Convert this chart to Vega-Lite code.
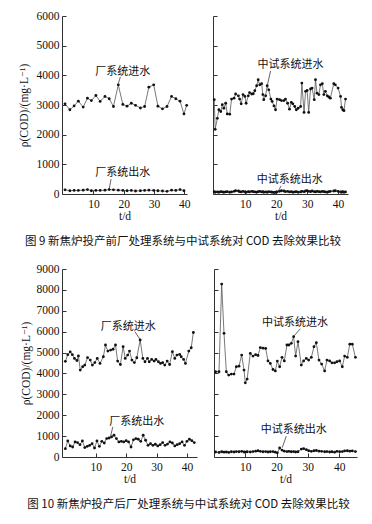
{
  "$schema": "https://vega.github.io/schema/vega-lite/v6.json",
  "padding": {"left": 18, "top": 10, "right": 4, "bottom": 4},
  "background": "white",
  "config": {
    "view": {"stroke": null},
    "font": "Liberation Serif, Times New Roman, DejaVu Serif, serif",
    "axis": {"grid": false, "domainColor": "#333", "tickColor": "#333", "tickSize": -4, "labelFont": "Liberation Serif, Times New Roman, DejaVu Serif, serif", "labelFontSize": 11.5, "labelColor": "#111", "titleFont": "Liberation Serif, Times New Roman, DejaVu Serif, serif", "titleFontSize": 11.5, "titleFontWeight": "normal", "titleColor": "#111", "format": "d"},
    "axisX": {"labelPadding": 8},
    "axisY": {"labelPadding": 7}
  },
  "datasets": {
    "f9L": [
      {"s":"in","day":0.6,"cod":3040},{"s":"in","day":2.2,"cod":2840},{"s":"in","day":3.6,"cod":2970},{"s":"in","day":5.0,"cod":3130},{"s":"in","day":6.6,"cod":2930},{"s":"in","day":8.0,"cod":3230},{"s":"in","day":9.3,"cod":3150},{"s":"in","day":10.8,"cod":3320},{"s":"in","day":12.2,"cod":3120},{"s":"in","day":13.8,"cod":3290},{"s":"in","day":15.2,"cod":3210},{"s":"in","day":16.6,"cod":2950},{"s":"in","day":18.2,"cod":3680},{"s":"in","day":19.7,"cod":3020},{"s":"in","day":21.1,"cod":2960},{"s":"in","day":22.5,"cod":3060},{"s":"in","day":23.9,"cod":2990},{"s":"in","day":25.5,"cod":2900},{"s":"in","day":26.9,"cod":2950},{"s":"in","day":28.3,"cod":3600},{"s":"in","day":29.9,"cod":3680},{"s":"in","day":31.3,"cod":2960},{"s":"in","day":32.8,"cod":2870},{"s":"in","day":34.3,"cod":2950},{"s":"in","day":35.8,"cod":3290},{"s":"in","day":37.2,"cod":3210},{"s":"in","day":38.6,"cod":3130},{"s":"in","day":39.9,"cod":2700},{"s":"in","day":40.8,"cod":2990},
      {"s":"out","day":0.6,"cod":140},{"s":"out","day":2.2,"cod":110},{"s":"out","day":3.6,"cod":120},{"s":"out","day":5.0,"cod":120},{"s":"out","day":6.6,"cod":130},{"s":"out","day":8.0,"cod":150},{"s":"out","day":9.3,"cod":110},{"s":"out","day":10.8,"cod":120},{"s":"out","day":12.2,"cod":120},{"s":"out","day":13.8,"cod":130},{"s":"out","day":15.2,"cod":150},{"s":"out","day":16.6,"cod":140},{"s":"out","day":18.2,"cod":130},{"s":"out","day":19.7,"cod":120},{"s":"out","day":21.1,"cod":110},{"s":"out","day":22.5,"cod":120},{"s":"out","day":23.9,"cod":100},{"s":"out","day":25.5,"cod":110},{"s":"out","day":26.9,"cod":120},{"s":"out","day":28.3,"cod":130},{"s":"out","day":29.9,"cod":120},{"s":"out","day":31.3,"cod":110},{"s":"out","day":32.8,"cod":100},{"s":"out","day":34.3,"cod":90},{"s":"out","day":35.8,"cod":130},{"s":"out","day":37.2,"cod":120},{"s":"out","day":38.6,"cod":150},{"s":"out","day":39.9,"cod":110}
    ],
    "f9R": [
      {"s":"in","day":0.0,"cod":3180},{"s":"in","day":0.3,"cod":2180},{"s":"in","day":1.0,"cod":2550},{"s":"in","day":1.5,"cod":2840},{"s":"in","day":2.1,"cod":2780},{"s":"in","day":2.6,"cod":3010},{"s":"in","day":3.1,"cod":2890},{"s":"in","day":3.7,"cod":3060},{"s":"in","day":4.2,"cod":2700},{"s":"in","day":5.0,"cod":2690},{"s":"in","day":5.6,"cod":3200},{"s":"in","day":6.4,"cod":3230},{"s":"in","day":6.9,"cod":3370},{"s":"in","day":7.8,"cod":3310},{"s":"in","day":8.2,"cod":3200},{"s":"in","day":8.7,"cod":3040},{"s":"in","day":9.3,"cod":3350},{"s":"in","day":9.9,"cod":3290},{"s":"in","day":10.3,"cod":3060},{"s":"in","day":11.0,"cod":3310},{"s":"in","day":11.4,"cod":3420},{"s":"in","day":12.1,"cod":3370},{"s":"in","day":12.6,"cod":3380},{"s":"in","day":13.1,"cod":3480},{"s":"in","day":13.7,"cod":3650},{"s":"in","day":14.2,"cod":3850},{"s":"in","day":14.7,"cod":3680},{"s":"in","day":15.3,"cod":3720},{"s":"in","day":15.7,"cod":3350},{"s":"in","day":16.0,"cod":3180},{"s":"in","day":16.6,"cod":3310},{"s":"in","day":17.1,"cod":3650},{"s":"in","day":17.6,"cod":3510},{"s":"in","day":18.3,"cod":3200},{"s":"in","day":18.7,"cod":3120},{"s":"in","day":19.3,"cod":2970},{"s":"in","day":19.8,"cod":2840},{"s":"in","day":20.3,"cod":3200},{"s":"in","day":21.1,"cod":3180},{"s":"in","day":21.7,"cod":3150},{"s":"in","day":22.5,"cod":3150},{"s":"in","day":23.0,"cod":3200},{"s":"in","day":23.7,"cod":3060},{"s":"in","day":24.3,"cod":2860},{"s":"in","day":24.9,"cod":3090},{"s":"in","day":25.4,"cod":3040},{"s":"in","day":26.0,"cod":2950},{"s":"in","day":26.5,"cod":2840},{"s":"in","day":27.1,"cod":2890},{"s":"in","day":27.9,"cod":2950},{"s":"in","day":28.3,"cod":3740},{"s":"in","day":29.0,"cod":2750},{"s":"in","day":29.5,"cod":3460},{"s":"in","day":30.0,"cod":3490},{"s":"in","day":30.5,"cod":2750},{"s":"in","day":31.1,"cod":3540},{"s":"in","day":31.6,"cod":3570},{"s":"in","day":32.3,"cod":3180},{"s":"in","day":32.7,"cod":3850},{"s":"in","day":33.2,"cod":3400},{"s":"in","day":33.8,"cod":3350},{"s":"in","day":34.3,"cod":3680},{"s":"in","day":34.9,"cod":3720},{"s":"in","day":35.4,"cod":3350},{"s":"in","day":35.9,"cod":3460},{"s":"in","day":36.5,"cod":3310},{"s":"in","day":37.0,"cod":3270},{"s":"in","day":37.5,"cod":3230},{"s":"in","day":38.6,"cod":3720},{"s":"in","day":39.1,"cod":3680},{"s":"in","day":40.0,"cod":3570},{"s":"in","day":40.8,"cod":3290},{"s":"in","day":41.1,"cod":2920},{"s":"in","day":41.5,"cod":2840},{"s":"in","day":41.9,"cod":2810},{"s":"in","day":42.4,"cod":3200},
      {"s":"out","day":0.0,"cod":80},{"s":"out","day":0.3,"cod":60},{"s":"out","day":1.0,"cod":70},{"s":"out","day":1.5,"cod":60},{"s":"out","day":2.1,"cod":80},{"s":"out","day":2.6,"cod":70},{"s":"out","day":3.1,"cod":60},{"s":"out","day":3.7,"cod":70},{"s":"out","day":4.2,"cod":80},{"s":"out","day":5.0,"cod":60},{"s":"out","day":5.6,"cod":70},{"s":"out","day":6.4,"cod":90},{"s":"out","day":6.9,"cod":110},{"s":"out","day":7.8,"cod":100},{"s":"out","day":8.2,"cod":80},{"s":"out","day":8.7,"cod":70},{"s":"out","day":9.3,"cod":90},{"s":"out","day":9.9,"cod":70},{"s":"out","day":10.3,"cod":60},{"s":"out","day":11.0,"cod":80},{"s":"out","day":11.4,"cod":70},{"s":"out","day":12.1,"cod":90},{"s":"out","day":12.6,"cod":80},{"s":"out","day":13.1,"cod":70},{"s":"out","day":13.7,"cod":60},{"s":"out","day":14.2,"cod":80},{"s":"out","day":14.7,"cod":90},{"s":"out","day":15.3,"cod":70},{"s":"out","day":15.7,"cod":80},{"s":"out","day":16.0,"cod":60},{"s":"out","day":16.6,"cod":70},{"s":"out","day":17.1,"cod":60},{"s":"out","day":17.6,"cod":80},{"s":"out","day":18.3,"cod":70},{"s":"out","day":18.7,"cod":60},{"s":"out","day":19.3,"cod":50},{"s":"out","day":19.8,"cod":60},{"s":"out","day":20.3,"cod":70},{"s":"out","day":21.1,"cod":90},{"s":"out","day":21.7,"cod":110},{"s":"out","day":22.5,"cod":100},{"s":"out","day":23.0,"cod":80},{"s":"out","day":23.7,"cod":90},{"s":"out","day":24.3,"cod":70},{"s":"out","day":24.9,"cod":80},{"s":"out","day":25.4,"cod":60},{"s":"out","day":26.0,"cod":70},{"s":"out","day":26.5,"cod":80},{"s":"out","day":27.1,"cod":60},{"s":"out","day":27.9,"cod":70},{"s":"out","day":28.3,"cod":90},{"s":"out","day":29.0,"cod":80},{"s":"out","day":29.5,"cod":100},{"s":"out","day":30.0,"cod":110},{"s":"out","day":30.5,"cod":90},{"s":"out","day":31.1,"cod":80},{"s":"out","day":31.6,"cod":100},{"s":"out","day":32.3,"cod":80},{"s":"out","day":32.7,"cod":70},{"s":"out","day":33.2,"cod":90},{"s":"out","day":33.8,"cod":80},{"s":"out","day":34.3,"cod":70},{"s":"out","day":34.9,"cod":90},{"s":"out","day":35.4,"cod":80},{"s":"out","day":35.9,"cod":70},{"s":"out","day":36.5,"cod":60},{"s":"out","day":37.0,"cod":80},{"s":"out","day":37.5,"cod":90},{"s":"out","day":38.6,"cod":100},{"s":"out","day":39.1,"cod":110},{"s":"out","day":40.0,"cod":90},{"s":"out","day":40.8,"cod":70},{"s":"out","day":41.1,"cod":60},{"s":"out","day":41.5,"cod":80},{"s":"out","day":41.9,"cod":60},{"s":"out","day":42.4,"cod":70}
    ],
    "f10L": [
      {"s":"in","day":0.0,"cod":4580},{"s":"in","day":0.8,"cod":4900},{"s":"in","day":1.6,"cod":5030},{"s":"in","day":2.3,"cod":4900},{"s":"in","day":3.0,"cod":4720},{"s":"in","day":3.8,"cod":4620},{"s":"in","day":4.3,"cod":4840},{"s":"in","day":4.9,"cod":4160},{"s":"in","day":5.7,"cod":4320},{"s":"in","day":6.4,"cod":4400},{"s":"in","day":7.3,"cod":4760},{"s":"in","day":8.2,"cod":4640},{"s":"in","day":8.9,"cod":4400},{"s":"in","day":9.7,"cod":4520},{"s":"in","day":10.5,"cod":4720},{"s":"in","day":11.4,"cod":4480},{"s":"in","day":12.5,"cod":4800},{"s":"in","day":13.2,"cod":5360},{"s":"in","day":14.0,"cod":5070},{"s":"in","day":14.9,"cod":5120},{"s":"in","day":15.7,"cod":5160},{"s":"in","day":16.5,"cod":5360},{"s":"in","day":17.2,"cod":4590},{"s":"in","day":18.1,"cod":4430},{"s":"in","day":19.0,"cod":5280},{"s":"in","day":19.7,"cod":4720},{"s":"in","day":20.5,"cod":4880},{"s":"in","day":21.1,"cod":5070},{"s":"in","day":21.9,"cod":4640},{"s":"in","day":22.7,"cod":4520},{"s":"in","day":23.5,"cod":4750},{"s":"in","day":24.6,"cod":5600},{"s":"in","day":25.5,"cod":4720},{"s":"in","day":26.2,"cod":4560},{"s":"in","day":27.0,"cod":4720},{"s":"in","day":27.6,"cod":4560},{"s":"in","day":28.4,"cod":4670},{"s":"in","day":29.2,"cod":4590},{"s":"in","day":29.8,"cod":4670},{"s":"in","day":30.6,"cod":4560},{"s":"in","day":31.3,"cod":4480},{"s":"in","day":32.0,"cod":4520},{"s":"in","day":32.7,"cod":4400},{"s":"in","day":33.5,"cod":4590},{"s":"in","day":34.3,"cod":4430},{"s":"in","day":35.2,"cod":5040},{"s":"in","day":36.0,"cod":4720},{"s":"in","day":36.7,"cod":4880},{"s":"in","day":37.6,"cod":4910},{"s":"in","day":38.1,"cod":4800},{"s":"in","day":38.9,"cod":4670},{"s":"in","day":39.5,"cod":4480},{"s":"in","day":40.6,"cod":5070},{"s":"in","day":41.4,"cod":5230},{"s":"in","day":42.1,"cod":5960},
      {"s":"out","day":0.0,"cod":400},{"s":"out","day":0.8,"cod":770},{"s":"out","day":1.6,"cod":530},{"s":"out","day":2.4,"cod":480},{"s":"out","day":3.2,"cod":720},{"s":"out","day":4.0,"cod":690},{"s":"out","day":4.8,"cod":590},{"s":"out","day":5.6,"cod":770},{"s":"out","day":6.4,"cod":450},{"s":"out","day":7.2,"cod":510},{"s":"out","day":8.0,"cod":560},{"s":"out","day":8.8,"cod":640},{"s":"out","day":9.6,"cod":430},{"s":"out","day":10.4,"cod":770},{"s":"out","day":11.2,"cod":510},{"s":"out","day":12.0,"cod":750},{"s":"out","day":12.8,"cod":670},{"s":"out","day":13.6,"cod":880},{"s":"out","day":14.4,"cod":910},{"s":"out","day":15.2,"cod":960},{"s":"out","day":16.0,"cod":1040},{"s":"out","day":16.8,"cod":880},{"s":"out","day":17.6,"cod":720},{"s":"out","day":18.4,"cod":750},{"s":"out","day":19.2,"cod":720},{"s":"out","day":20.0,"cod":780},{"s":"out","day":20.8,"cod":720},{"s":"out","day":21.6,"cod":480},{"s":"out","day":22.4,"cod":820},{"s":"out","day":23.2,"cod":880},{"s":"out","day":24.0,"cod":850},{"s":"out","day":24.8,"cod":750},{"s":"out","day":25.6,"cod":1040},{"s":"out","day":26.4,"cod":800},{"s":"out","day":27.2,"cod":560},{"s":"out","day":28.0,"cod":640},{"s":"out","day":28.8,"cod":560},{"s":"out","day":29.6,"cod":610},{"s":"out","day":30.4,"cod":530},{"s":"out","day":31.2,"cod":590},{"s":"out","day":32.0,"cod":690},{"s":"out","day":32.8,"cod":560},{"s":"out","day":33.6,"cod":620},{"s":"out","day":34.4,"cod":720},{"s":"out","day":35.2,"cod":670},{"s":"out","day":36.0,"cod":530},{"s":"out","day":36.8,"cod":590},{"s":"out","day":37.6,"cod":640},{"s":"out","day":38.4,"cod":720},{"s":"out","day":39.2,"cod":560},{"s":"out","day":40.0,"cod":750},{"s":"out","day":40.8,"cod":850},{"s":"out","day":41.6,"cod":780},{"s":"out","day":42.4,"cod":690}
    ],
    "f10R": [
      {"s":"in","day":0.5,"cod":4080},{"s":"in","day":1.6,"cod":4080},{"s":"in","day":2.45,"cod":8280},{"s":"in","day":3.2,"cod":5920},{"s":"in","day":3.94,"cod":4080},{"s":"in","day":4.69,"cod":3920},{"s":"in","day":5.54,"cod":3970},{"s":"in","day":6.39,"cod":3970},{"s":"in","day":7.14,"cod":4320},{"s":"in","day":7.99,"cod":4350},{"s":"in","day":8.84,"cod":4880},{"s":"in","day":9.6,"cod":4160},{"s":"in","day":10.0,"cod":3550},{"s":"in","day":10.6,"cod":3730},{"s":"in","day":11.6,"cod":4960},{"s":"in","day":12.46,"cod":4830},{"s":"in","day":13.31,"cod":4900},{"s":"in","day":14.06,"cod":4860},{"s":"in","day":14.8,"cod":5240},{"s":"in","day":15.65,"cod":5210},{"s":"in","day":16.5,"cod":5200},{"s":"in","day":17.25,"cod":4600},{"s":"in","day":18.0,"cod":4480},{"s":"in","day":18.85,"cod":4190},{"s":"in","day":19.6,"cod":4120},{"s":"in","day":20.23,"cod":4590},{"s":"in","day":20.98,"cod":4320},{"s":"in","day":21.73,"cod":4770},{"s":"in","day":22.47,"cod":4600},{"s":"in","day":23.32,"cod":5360},{"s":"in","day":23.96,"cod":5360},{"s":"in","day":24.7,"cod":5440},{"s":"in","day":25.45,"cod":5760},{"s":"in","day":26.09,"cod":4830},{"s":"in","day":26.84,"cod":5520},{"s":"in","day":27.9,"cod":4400},{"s":"in","day":28.65,"cod":4600},{"s":"in","day":29.5,"cod":4720},{"s":"in","day":30.25,"cod":4640},{"s":"in","day":31.1,"cod":4770},{"s":"in","day":31.95,"cod":5280},{"s":"in","day":32.7,"cod":5470},{"s":"in","day":33.55,"cod":4640},{"s":"in","day":34.4,"cod":4450},{"s":"in","day":35.36,"cod":4120},{"s":"in","day":36.1,"cod":4640},{"s":"in","day":36.95,"cod":4600},{"s":"in","day":37.7,"cod":4510},{"s":"in","day":38.55,"cod":4510},{"s":"in","day":39.3,"cod":4560},{"s":"in","day":40.15,"cod":4600},{"s":"in","day":41.0,"cod":4320},{"s":"in","day":41.75,"cod":4830},{"s":"in","day":42.6,"cod":4770},{"s":"in","day":43.4,"cod":5400},{"s":"in","day":44.2,"cod":5400},{"s":"in","day":45.2,"cod":4770},
      {"s":"out","day":0.5,"cod":240},{"s":"out","day":1.6,"cod":220},{"s":"out","day":2.45,"cod":250},{"s":"out","day":3.2,"cod":230},{"s":"out","day":3.94,"cod":240},{"s":"out","day":4.69,"cod":220},{"s":"out","day":5.54,"cod":250},{"s":"out","day":6.39,"cod":240},{"s":"out","day":7.14,"cod":260},{"s":"out","day":7.99,"cod":250},{"s":"out","day":8.84,"cod":270},{"s":"out","day":9.6,"cod":240},{"s":"out","day":10.0,"cod":230},{"s":"out","day":10.6,"cod":250},{"s":"out","day":11.6,"cod":240},{"s":"out","day":12.46,"cod":260},{"s":"out","day":13.31,"cod":280},{"s":"out","day":14.06,"cod":300},{"s":"out","day":14.8,"cod":270},{"s":"out","day":15.65,"cod":250},{"s":"out","day":16.5,"cod":260},{"s":"out","day":17.25,"cod":240},{"s":"out","day":18.0,"cod":250},{"s":"out","day":18.85,"cod":260},{"s":"out","day":19.6,"cod":230},{"s":"out","day":20.23,"cod":200},{"s":"out","day":20.98,"cod":430},{"s":"out","day":21.73,"cod":330},{"s":"out","day":22.47,"cod":280},{"s":"out","day":23.32,"cod":260},{"s":"out","day":23.96,"cod":270},{"s":"out","day":24.7,"cod":250},{"s":"out","day":25.45,"cod":260},{"s":"out","day":26.09,"cod":240},{"s":"out","day":26.84,"cod":250},{"s":"out","day":27.9,"cod":380},{"s":"out","day":28.65,"cod":400},{"s":"out","day":29.5,"cod":350},{"s":"out","day":30.25,"cod":300},{"s":"out","day":31.1,"cod":270},{"s":"out","day":31.95,"cod":300},{"s":"out","day":32.7,"cod":310},{"s":"out","day":33.55,"cod":280},{"s":"out","day":34.4,"cod":270},{"s":"out","day":35.36,"cod":250},{"s":"out","day":36.1,"cod":260},{"s":"out","day":36.95,"cod":240},{"s":"out","day":37.7,"cod":250},{"s":"out","day":38.55,"cod":230},{"s":"out","day":39.3,"cod":270},{"s":"out","day":40.15,"cod":250},{"s":"out","day":41.0,"cod":260},{"s":"out","day":41.75,"cod":290},{"s":"out","day":42.6,"cod":300},{"s":"out","day":43.4,"cod":280},{"s":"out","day":44.2,"cod":290},{"s":"out","day":45.2,"cod":260}
    ],
    "t9L": [{"day":19.7,"cod":4110,"label":"厂系统进水"},{"day":19.7,"cod":700,"label":"厂系统出水"}],
    "l9L": [{"day":18.9,"cod":3950,"day2":18.2,"cod2":3720},{"day":15.8,"cod":500,"day2":15.2,"cod2":170}],
    "t9R": [{"day":24.6,"cod":4350,"label":"中试系统进水"},{"day":24.4,"cod":460,"label":"中试系统出水"}],
    "l9R": [{"day":18.2,"cod":4150,"day2":17.2,"cod2":3690},{"day":21.6,"cod":275,"day2":20.5,"cod2":60}],
    "t10L": [{"day":20.7,"cod":6235,"label":"厂系统进水"},{"day":23.5,"cod":1680,"label":"厂系统出水"}],
    "l10L": [{"day":22.9,"cod":6000,"day2":24.5,"cod2":5640},{"day":15.6,"cod":1440,"day2":14.9,"cod2":1000}],
    "t10R": [{"day":25.9,"cod":6400,"label":"中试系统进水"},{"day":25.5,"cod":1280,"label":"中试系统出水"}],
    "l10R": [{"day":27.6,"cod":6140,"day2":25.6,"cod2":5800},{"day":23.1,"cod":1000,"day2":21.8,"cod2":450}]
  },
  "spacing": 15,
  "vconcat": [
    {
      "title": {"text": "图 9   新焦炉投产前厂处理系统与中试系统对 COD 去除效果比较", "orient": "bottom", "anchor": "middle", "font": "Noto Sans CJK SC", "fontSize": 11.5, "fontWeight": "normal", "color": "#111", "offset": 14},
      "spacing": 21,
      "hconcat": [
        {
          "width": 125, "height": 178,
          "encoding": {
            "x": {"field": "day", "type": "quantitative", "scale": {"domain": [-0.4, 40.9], "nice": false, "zero": false}, "axis": {"values": [10, 20, 30, 40], "title": "t/d", "titlePadding": 1}},
            "y": {"field": "cod", "type": "quantitative", "scale": {"domain": [0, 6000], "nice": false}, "axis": {"values": [0, 1000, 2000, 3000, 4000, 5000, 6000], "title": "ρ(COD)/(mg·L⁻¹)", "titlePadding": 7}}
          },
          "layer": [
            {"data": {"name": "f9L"}, "mark": {"type": "line", "color": "#555", "strokeWidth": 0.8, "point": {"filled": true, "color": "#111", "size": 8}}, "encoding": {"detail": {"field": "s"}}},
            {"data": {"name": "l9L"}, "mark": {"type": "rule", "color": "#222", "strokeWidth": 0.7}, "encoding": {"x2": {"field": "day2"}, "y2": {"field": "cod2"}}},
            {"data": {"name": "t9L"}, "mark": {"type": "text", "align": "center", "baseline": "middle", "font": "Noto Sans CJK SC", "fontSize": 11, "color": "#111"}, "encoding": {"text": {"field": "label"}}}
          ]
        },
        {
          "width": 135, "height": 178,
          "encoding": {
            "x": {"field": "day", "type": "quantitative", "scale": {"domain": [-0.4, 43.2], "nice": false, "zero": false}, "axis": {"values": [10, 20, 30, 40], "title": "t/d", "titlePadding": 1}},
            "y": {"field": "cod", "type": "quantitative", "scale": {"domain": [0, 6000], "nice": false}, "axis": {"values": [0, 1000, 2000, 3000, 4000, 5000, 6000], "labels": false, "title": null}}
          },
          "layer": [
            {"data": {"name": "f9R"}, "mark": {"type": "line", "color": "#555", "strokeWidth": 0.8, "point": {"filled": true, "color": "#111", "size": 8}}, "encoding": {"detail": {"field": "s"}}},
            {"data": {"name": "l9R"}, "mark": {"type": "rule", "color": "#222", "strokeWidth": 0.7}, "encoding": {"x2": {"field": "day2"}, "y2": {"field": "cod2"}}},
            {"data": {"name": "t9R"}, "mark": {"type": "text", "align": "center", "baseline": "middle", "font": "Noto Sans CJK SC", "fontSize": 11, "color": "#111"}, "encoding": {"text": {"field": "label"}}}
          ]
        }
      ]
    },
    {
      "title": {"text": "图 10   新焦炉投产后厂处理系统与中试系统对 COD 去除效果比较", "orient": "bottom", "anchor": "middle", "font": "Noto Sans CJK SC", "fontSize": 11.5, "fontWeight": "normal", "color": "#111", "offset": 14},
      "spacing": 16,
      "hconcat": [
        {
          "width": 135, "height": 188,
          "encoding": {
            "x": {"field": "day", "type": "quantitative", "scale": {"domain": [-1.1, 43.3], "nice": false, "zero": false}, "axis": {"values": [10, 20, 30, 40], "title": "t/d", "titlePadding": 1}},
            "y": {"field": "cod", "type": "quantitative", "scale": {"domain": [0, 9000], "nice": false}, "axis": {"values": [0, 1000, 2000, 3000, 4000, 5000, 6000, 7000, 8000, 9000], "title": "ρ(COD)/(mg·L⁻¹)", "titlePadding": 5}}
          },
          "layer": [
            {"data": {"name": "f10L"}, "mark": {"type": "line", "color": "#555", "strokeWidth": 0.8, "point": {"filled": true, "color": "#111", "size": 8}}, "encoding": {"detail": {"field": "s"}}},
            {"data": {"name": "l10L"}, "mark": {"type": "rule", "color": "#222", "strokeWidth": 0.7}, "encoding": {"x2": {"field": "day2"}, "y2": {"field": "cod2"}}},
            {"data": {"name": "t10L"}, "mark": {"type": "text", "align": "center", "baseline": "middle", "font": "Noto Sans CJK SC", "fontSize": 11, "color": "#111"}, "encoding": {"text": {"field": "label"}}}
          ]
        },
        {
          "width": 143, "height": 188,
          "encoding": {
            "x": {"field": "day", "type": "quantitative", "scale": {"domain": [0, 45.7], "nice": false, "zero": false}, "axis": {"values": [10, 20, 30, 40], "title": "t/d", "titlePadding": 1}},
            "y": {"field": "cod", "type": "quantitative", "scale": {"domain": [0, 9000], "nice": false}, "axis": {"values": [0, 1000, 2000, 3000, 4000, 5000, 6000, 7000, 8000, 9000], "labels": false, "title": null}}
          },
          "layer": [
            {"data": {"name": "f10R"}, "mark": {"type": "line", "color": "#555", "strokeWidth": 0.8, "point": {"filled": true, "color": "#111", "size": 8}}, "encoding": {"detail": {"field": "s"}}},
            {"data": {"name": "l10R"}, "mark": {"type": "rule", "color": "#222", "strokeWidth": 0.7}, "encoding": {"x2": {"field": "day2"}, "y2": {"field": "cod2"}}},
            {"data": {"name": "t10R"}, "mark": {"type": "text", "align": "center", "baseline": "middle", "font": "Noto Sans CJK SC", "fontSize": 11, "color": "#111"}, "encoding": {"text": {"field": "label"}}}
          ]
        }
      ]
    }
  ]
}
